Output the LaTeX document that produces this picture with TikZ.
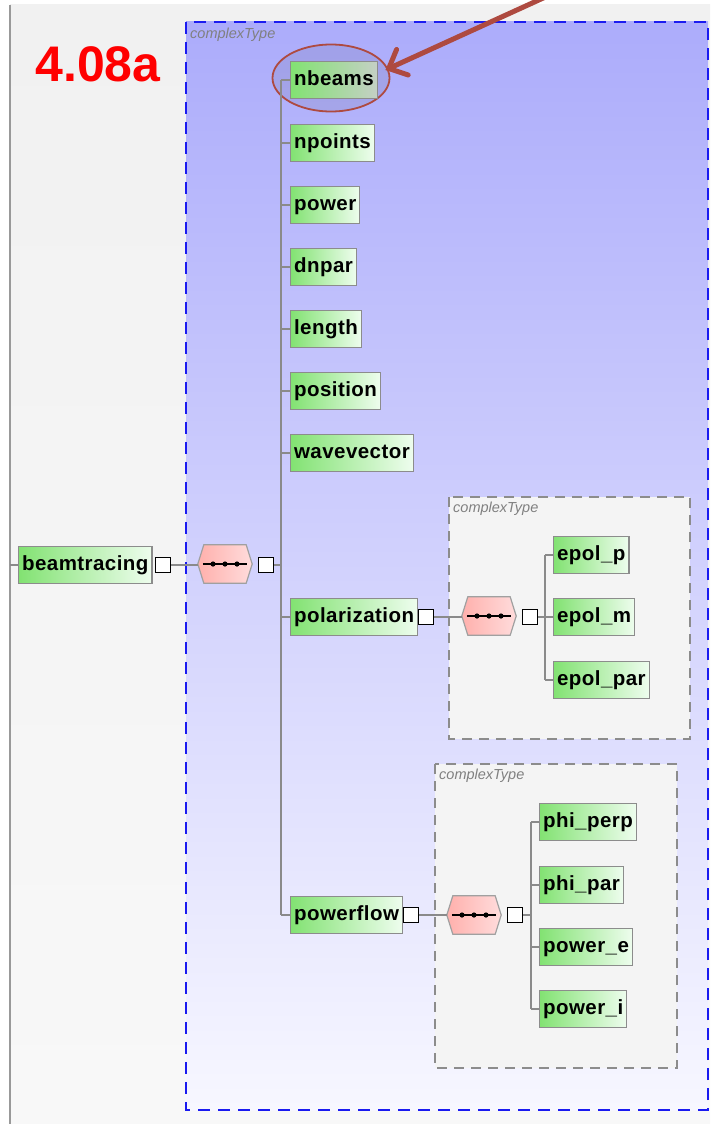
\documentclass[tikz,border=0pt]{standalone}
\usepackage{fontspec}
\setmainfont{Liberation Sans}
\newfontfamily\elemfont{Liberation Sans}[LetterSpace=2.2]
\usetikzlibrary{arrows.meta,calc,shapes.geometric}

\definecolor{elemL}{HTML}{82E272}
\definecolor{elemR}{HTML}{EEFDEE}
\definecolor{elemEdge}{HTML}{8C8C8C}
\definecolor{wire}{HTML}{8A8A8A}
\definecolor{paneTop}{HTML}{F1F1F1}
\definecolor{paneBot}{HTML}{F8F8F8}
\definecolor{typeTop}{HTML}{ACACFB}
\definecolor{typeBot}{HTML}{F7F7FF}
\definecolor{typeEdge}{HTML}{1A1AF0}
\definecolor{subFill}{HTML}{F4F4F4}
\definecolor{subEdge}{HTML}{8C8C8C}
\definecolor{hexL}{HTML}{FFB0AC}
\definecolor{hexR}{HTML}{FFDCDC}
\definecolor{hexEdge}{HTML}{A0A0A0}
\definecolor{markRed}{HTML}{AE4A40}

\tikzset{
  elem/.style={draw=elemEdge, line width=1.2, left color=elemL, right color=elemR,
    font=\elemfont\fontsize{20.5}{20.5}\selectfont\bfseries, text height=15, text depth=4.5,
    minimum height=37, inner xsep=3.5, inner ysep=0, anchor=west},
  picked/.style={right color=black!10!elemR!80!gray},
  seqsq/.style={draw=black, fill=white, line width=1.5, minimum size=15, inner sep=0},
  hexslot/.style={minimum width=54, minimum height=38, inner sep=0},
  conn/.style={draw=wire, line width=1.5},
  typelabel/.style={font=\fontsize{14.5}{14.5}\selectfont\itshape, text=gray, anchor=north west, inner sep=0},
}

% sequence compositor: pink hexagon with a dotted bar
\newcommand\seqhex[1]{%
  \shadedraw[left color=hexL, right color=hexR, draw=hexEdge, line width=1.2]
    (#1.west) -- ([xshift=6]#1.north west) -- ([xshift=-6]#1.north east)
    -- (#1.east) -- ([xshift=-6]#1.south east) -- ([xshift=6]#1.south west) -- cycle;
  \draw[black, line width=1.5] ([xshift=5]#1.west) -- ([xshift=-5]#1.east);
  \foreach \d in {-12,0,12} \fill[black] ([xshift=\d]#1.center) circle (2.6);
}

\begin{document}
\begin{tikzpicture}[x=1pt,y=-1pt]
\useasboundingbox (0,0) rectangle (710,1124);

% window pane
\fill[white] (0,0) rectangle (710,1124);
\shade[top color=paneTop, bottom color=paneBot] (10,5) rectangle (710,1124);
\draw[gray!80, line width=2] (10,5) -- (10,1124);

% outer complex type
\shade[top color=typeTop, bottom color=typeBot] (186,22) rectangle (708,1110);
\draw[typeEdge, line width=2, dash pattern=on 12 off 8] (186,22) rectangle (708,1110);
\node[typelabel] (ctA) at (190,28) {complexType};

% nested complex types
\filldraw[fill=subFill, draw=subEdge, line width=1.6, dash pattern=on 10 off 7] (449,497) rectangle (690,739);
\node[typelabel] (ctB) at (453,502) {complexType};
\filldraw[fill=subFill, draw=subEdge, line width=1.6, dash pattern=on 10 off 7] (435,764) rectangle (677,1068);
\node[typelabel] (ctC) at (439,769) {complexType};

% caption
\node[font=\fontsize{50}{50}\selectfont\bfseries, text=red, inner sep=0] (tag) at (98,64) {4.08a};

% root element
\coordinate (rail) at (10,565);
\node[elem] (beamtracing) at (18,565) {beamtracing};
\node[seqsq] (sqA) at (163,565) {};
\node[hexslot] (hxA) at (225,564) {};
\node[seqsq] (sqB) at (266,565) {};

% highlight ring behind first child
\node[ellipse, draw=markRed, line width=1.8, fill=black, fill opacity=0.07, draw opacity=1,
      minimum width=117, minimum height=67] (ring) at (331,78) {};

% children of beamtracing
\node[elem, picked] (nbeams) at (290,80) {nbeams};
\node[elem] (npoints) at (290,143) {npoints};
\node[elem] (power) at (290,205) {power};
\node[elem] (dnpar) at (290,267) {dnpar};
\node[elem] (length) at (290,329) {length};
\node[elem] (position) at (290,391) {position};
\node[elem] (wavevector) at (290,453) {wavevector};
\node[elem] (polarization) at (290,617) {polarization};
\node[elem] (powerflow) at (290,915) {powerflow};

% polarization content
\node[seqsq] (sqP) at (426,617) {};
\node[hexslot] (hxP) at (489,616) {};
\node[seqsq] (sqQ) at (530,617) {};
\node[elem] (epolp) at (553,555) {epol\_p};
\node[elem] (epolm) at (553,617) {epol\_m};
\node[elem] (epolpar) at (553,680) {epol\_par};

% powerflow content
\node[seqsq] (sqF) at (411,915) {};
\node[hexslot] (hxF) at (474,915) {};
\node[seqsq] (sqG) at (515,915) {};
\node[elem] (phiperp) at (539,822) {phi\_perp};
\node[elem] (phipar) at (539,885) {phi\_par};
\node[elem] (powere) at (539,947) {power\_e};
\node[elem] (poweri) at (539,1009) {power\_i};

% compositors
\seqhex{hxA}
\seqhex{hxP}
\seqhex{hxF}

% wiring
\draw[conn] (rail) -- (beamtracing.west);
\draw[conn] (sqA.east) -- (hxA.west |- sqA.east);
\draw[conn] (sqB.east) -- ++(7,0);
\draw[conn] ([xshift=-9]nbeams.west) -- ([xshift=-9]powerflow.west);
\foreach \n in {nbeams,npoints,power,dnpar,length,position,wavevector,polarization,powerflow}
  \draw[conn] (\n.west) -- ++(-9,0);

\draw[conn] (sqP.east) -- (hxP.west |- sqP.east);
\draw[conn] (sqQ.east) -- ++(7,0);
\draw[conn] ([xshift=-8]epolp.west) -- ([xshift=-8]epolpar.west);
\foreach \n in {epolp,epolm,epolpar}
  \draw[conn] (\n.west) -- ++(-8,0);

\draw[conn] (sqF.east) -- (hxF.west |- sqF.east);
\draw[conn] (sqG.east) -- ++(8,0);
\draw[conn] ([xshift=-8]phiperp.west) -- ([xshift=-8]poweri.west);
\foreach \n in {phiperp,phipar,powere,poweri}
  \draw[conn] (\n.west) -- ++(-8,0);

% pointer arrow
\coordinate (tail) at (552,-6);
\draw[markRed, line width=5, line cap=round, -{Straight Barb[length=15, width=28, line cap=round]}]
  (tail) -- ([shift={(-5,-8)}]ring.east);

\end{tikzpicture}
\end{document}
